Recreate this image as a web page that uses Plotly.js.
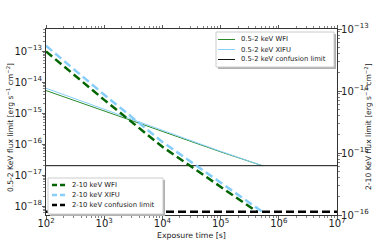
<!DOCTYPE html>
<html><head><meta charset="utf-8">
<script src="https://cdn.plot.ly/plotly-3.0.1.min.js"></script>
<style>body{margin:0;background:#fff}</style></head>
<body><div id="c" style="width:374px;height:249px"></div>
<script>
// 0.5-2 keV (left axis)
const wfiSoftT  = [1e2, 1e3, 1e4, 1e5, 5.2e5];
const wfiSoft   = [5.3e-15, 1.17e-15, 2.5e-16, 5.6e-17, 2e-17];
const xifuSoftT = [1e2, 1e3, 1e4, 1e5, 5.2e5];
const xifuSoft  = [6.3e-15, 1.32e-15, 2.7e-16, 5.8e-17, 2e-17];
const confSoftT = [1e2, 1e7];
const confSoft  = [2e-17, 2e-17];
// 2-10 keV (right axis)
const wfiHardT  = [1e2, 1e3, 1e4, 1e5, 4.2e5];
const wfiHard   = [4.35e-14, 7.2e-15, 1.26e-15, 2.8e-16, 1.13e-16];
const xifuHardT = [1e2, 1e3, 1e4, 1e5, 5.2e5];
const xifuHard  = [5.37e-14, 8.7e-15, 1.51e-15, 3.3e-16, 1.13e-16];
const confHardT = [1e2, 1e7];
const confHard  = [1.13e-16, 1.13e-16];
const softLabels = ['0.5-2 keV WFI', '0.5-2 keV XIFU', '0.5-2 keV confusion limit'];
const hardLabels = ['2-10 keV WFI', '2-10 keV XIFU', '2-10 keV confusion limit'];

const green = '#2b8a2b', dgreen = '#006400', lblue = '#87cefa';
const DASH = '8px,4px';
const softStyles = [{color: green, width: 1}, {color: lblue, width: 1}, {color: '#111', width: 1}];
const hardStyles = [{color: dgreen, width: 2.5, dash: DASH}, {color: lblue, width: 2.5, dash: DASH}, {color: '#000', width: 2.5, dash: DASH}];

const traces = [
  {x: wfiSoftT, y: wfiSoft, name: softLabels[0], mode: 'lines', line: softStyles[0]},
  {x: xifuSoftT, y: xifuSoft, name: softLabels[1], mode: 'lines', line: softStyles[1]},
  {x: confSoftT, y: confSoft, name: softLabels[2], mode: 'lines', line: softStyles[2]},
  {x: wfiHardT, y: wfiHard, name: hardLabels[0], mode: 'lines', yaxis: 'y2', line: hardStyles[0]},
  {x: xifuHardT, y: xifuHard, name: hardLabels[1], mode: 'lines', yaxis: 'y2', line: hardStyles[1]},
  {x: confHardT, y: confHard, name: hardLabels[2], mode: 'lines', yaxis: 'y2', line: hardStyles[2]}
];

// plot area geometry (pixels)
const L = 46, R = 337, T = 29, B = 215, W = 374, H = 249;
const px = v => (v - L) / (R - L);
const py = v => (B - v) / (B - T);

const FONT = 'DejaVu Sans';
const tickfont = {family: FONT, size: 8, color: '#222'};
const axBase = {type: 'log', showgrid: false, zeroline: false, showline: true, linecolor: '#333', linewidth: 1,
  ticks: 'outside', ticklen: 3.5, tickwidth: 0.8, tickcolor: '#333', dtick: 1, exponentformat: 'power',
  tickfont: tickfont, automargin: false, ticklabelstandoff: -2,
  minor: {ticks: 'outside', ticklen: 2, tickwidth: 0.6, tickcolor: '#333', dtick: 'D1'}};

const shapes = [], annotations = [];
function legendBox(x0, y0, x1, y1, labels, styles, sx0, sx1, tx, rows) {
  shapes.push({type: 'rect', xref: 'paper', yref: 'paper', layer: 'above',
    x0: px(x0 + 2), x1: px(x1 + 2), y0: py(y1 + 2), y1: py(y0 + 2), fillcolor: '#b0b0b0', line: {width: 0}});
  shapes.push({type: 'rect', xref: 'paper', yref: 'paper', layer: 'above',
    x0: px(x0), x1: px(x1), y0: py(y1), y1: py(y0), fillcolor: '#fff', line: {color: '#cccccc', width: 1}});
  labels.forEach((lab, i) => {
    const st = styles[i];
    shapes.push({type: 'line', xref: 'paper', yref: 'paper', layer: 'above',
      x0: px(sx0), x1: px(sx1), y0: py(rows[i]), y1: py(rows[i]),
      line: {color: st.color, width: st.width, dash: st.dash ? '5px,3px' : 'solid'}});
    annotations.push({xref: 'paper', yref: 'paper', x: px(tx), y: py(rows[i]), xanchor: 'left', yanchor: 'middle',
      text: lab, showarrow: false, font: {family: FONT, size: 6.8, color: '#222'}});
  });
}
legendBox(216, 32, 334, 67, softLabels, softStyles, 218, 235, 239, [39.5, 49.5, 59.5]);
legendBox(48, 178, 163, 214, hardLabels, hardStyles, 52, 66, 70, [185, 195, 205]);

annotations.push({xref: 'paper', yref: 'paper', x: px(10), y: py(128), textangle: -90, showarrow: false,
  xanchor: 'center', yanchor: 'middle',
  text: '0.5-2 KeV flux limit [erg s<sup>−1</sup> cm<sup>−2</sup>]', font: {family: FONT, size: 7.6, color: '#222'}});
annotations.push({xref: 'paper', yref: 'paper', x: px(368), y: py(127), textangle: -90, showarrow: false,
  xanchor: 'center', yanchor: 'middle',
  text: '2-10 KeV flux limit [erg s<sup>−1</sup> cm<sup>−2</sup>]', font: {family: FONT, size: 7.6, color: '#222'}});
annotations.push({xref: 'paper', yref: 'paper', x: px(191), y: py(236), showarrow: false,
  xanchor: 'center', yanchor: 'middle',
  text: 'Exposure time [s]', font: {family: FONT, size: 7.8, color: '#222'}});

const layout = {
  width: W, height: H,
  margin: {l: L, r: W - R, t: T, b: H - B},
  paper_bgcolor: '#fff', plot_bgcolor: '#fff',
  showlegend: false,
  xaxis: Object.assign({}, axBase, {range: [2, 7], mirror: 'ticks', ticklabelstandoff: -4}),
  yaxis: Object.assign({}, axBase, {range: [-18.29, -12.29], mirror: true}),
  yaxis2: Object.assign({}, axBase, {range: [-16, -13], overlaying: 'y', side: 'right'}),
  shapes: shapes, annotations: annotations
};
Plotly.newPlot('c', traces, layout, {displayModeBar: false, staticPlot: true});
</script></body></html>
